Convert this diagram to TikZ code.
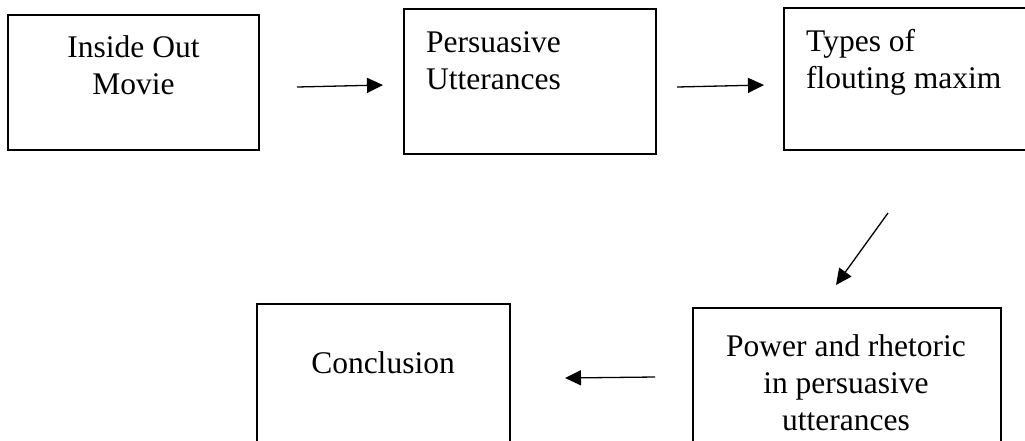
\documentclass[tikz,border=0pt]{standalone}
\usepackage{fontspec}
\setmainfont{Liberation Serif}
\usetikzlibrary{arrows.meta}
\tikzset{
  box/.style={draw=black, line width=2.4pt, rectangle, inner sep=0pt},
  txt/.style={inner sep=0pt, font=\fontsize{31.5}{37}\selectfont},
  conn/.style={line width=1.3pt, -{Triangle[length=16pt,width=15pt]}}
}
\begin{document}
\begin{tikzpicture}[x=1pt,y=-1pt]
\clip (0,0) rectangle (1025,440);
\fill[white] (0,0) rectangle (1025,440);
% boxes
\node[box, minimum width=251pt, minimum height=135pt] (b1) at (133.5,82.5) {};
\node[box, minimum width=252pt, minimum height=145pt] (b2) at (530,81.5) {};
\node[box, minimum width=246pt, minimum height=142pt] (b3) at (907,79) {};
\node[box, minimum width=253pt, minimum height=146pt] (b4) at (383.5,377) {};
\node[box, minimum width=308pt, minimum height=142pt] (b5) at (847,379) {};
% texts
\node[txt, anchor=north, align=center] (t1) at (133.5,35.5) {Inside Out\\Movie};
\node[txt, anchor=north west, align=left] (t2) at (426,31) {Persuasive\\Utterances};
\node[txt, anchor=north west, align=left] (t3) at (806,29) {Types of\\flouting maxim};
\node[txt, anchor=north, align=center] (t4) at (383,351) {Conclusion};
\node[txt, anchor=north, align=center] (t5) at (846,334) {Power and rhetoric\\in persuasive\\utterances};
% connector end points
\coordinate (a1s) at (297,87);  \coordinate (a1e) at (383,85);
\coordinate (a2s) at (677,87);  \coordinate (a2e) at (764,85);
\coordinate (a3s) at (888,213); \coordinate (a3e) at (836,285);
\coordinate (a4s) at (655,377); \coordinate (a4e) at (565,378);
\draw[conn] (a1s) -- (a1e);
\draw[conn] (a2s) -- (a2e);
\draw[conn] (a3s) -- (a3e);
\draw[conn] (a4s) -- (a4e);
\end{tikzpicture}
\end{document}
